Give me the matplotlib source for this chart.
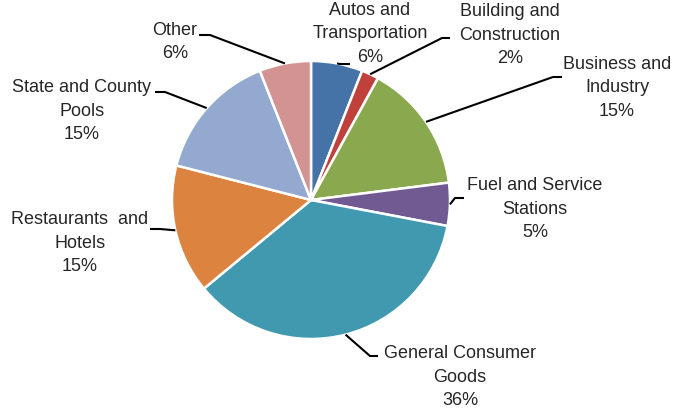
import matplotlib
matplotlib.use("Agg")
import matplotlib.pyplot as plt
import numpy as np
from matplotlib import font_manager

names = {f.name for f in font_manager.fontManager.ttflist}
fam = [n for n in ['Liberation Sans Narrow', 'Liberation Sans', 'DejaVu Sans'] if n in names]
plt.rcParams['font.family'] = fam

categories = ["Autos and\nTransportation", "Building and\nConstruction", "Business and\nIndustry",
              "Fuel and Service\nStations", "General Consumer\nGoods", "Restaurants  and\nHotels",
              "State and County\nPools", "Other"]
values = [6, 2, 15, 5, 36, 15, 15, 6]
colors = ["#4572a7", "#c0403c", "#8aa84d", "#715a92", "#4199b0", "#dc843f", "#94a9cf", "#d39392"]

# layout (pixel coords, y down): text center, elbow, line end near text
text_pos = [(370, 34), (510, 35), (617, 88), (535, 209), (460, 377), (80, 243), (82, 111), (175, 42)]
elbows = [(340, 64), (442, 38), (553, 77), (455, 198), (370, 356), (160, 229), (165, 92), (210, 35)]
ends = [(350, 64), (450, 38), (562, 77), (464, 198), (378, 356), (150, 229), (155, 92), (199, 35)]

W, H = 673, 409
fig = plt.figure(figsize=(W / 100, H / 100), dpi=100)
ax = fig.add_axes([0, 0, 1, 1])

cx, cy, r = 311, H - 200, 139
wedges, _ = ax.pie(values, colors=colors, startangle=90, counterclock=False,
                   center=(cx, cy), radius=r, frame=True,
                   wedgeprops=dict(edgecolor='white', linewidth=1.8))
ax.set_xlim(0, W)
ax.set_ylim(0, H)
ax.set_aspect('auto')
ax.axis('off')

for w, cat, v, tp, el, en in zip(wedges, categories, values, text_pos, elbows, ends):
    ang = np.deg2rad((w.theta1 + w.theta2) / 2)
    ax_pt = (cx + r * np.cos(ang), cy + r * np.sin(ang))
    xs = [ax_pt[0], el[0], en[0]]
    ys = [ax_pt[1], H - el[1], H - en[1]]
    ax.plot(xs, ys, color='black', lw=1.5, solid_capstyle='butt')
    ax.text(tp[0], H - tp[1], f"{cat}\n{v}%", ha='center', va='center',
            fontsize=13, color='#262626', linespacing=1.47)

fig.savefig("out.png", dpi=100, facecolor='white')
